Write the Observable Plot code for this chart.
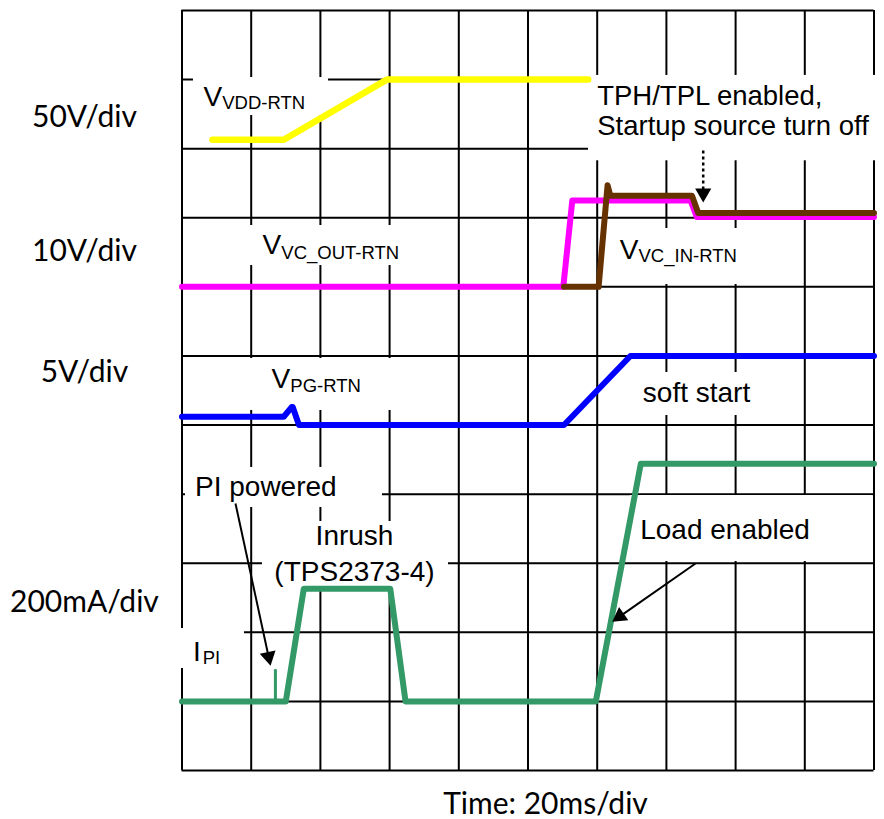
<!DOCTYPE html>
<html><head><meta charset="utf-8">
<script src="https://cdn.jsdelivr.net/npm/d3@7"></script>
<script src="https://cdn.jsdelivr.net/npm/@observablehq/plot@0.6"></script>
<style>body{margin:0;background:#fff} #chart svg{display:block}</style>
</head><body><div id="chart"></div>
<script>
// ---- trace data (time in divisions, level in divisions from bottom of screen) ----
const vddT = [0.44, 1.47, 2.96, 5.87];
const vddV = [9.13, 9.13, 10.0, 10.0];
const vcOutT = [0, 5.51, 5.64, 7.35, 7.44, 10];
const vcOutV = [7.0, 7.0, 8.25, 8.25, 8.01, 8.01];
const vcInT = [5.52, 6.02, 6.15, 6.19, 7.37, 7.46, 10];
const vcInV = [7.0, 7.0, 8.47, 8.32, 8.32, 8.07, 8.07];
const pgT = [0, 1.47, 1.585, 1.60, 1.69, 5.52, 6.48, 10];
const pgV = [5.12, 5.12, 5.26, 5.26, 5.0, 5.0, 6.0, 6.0];
const ipiT = [0, 1.50, 1.76, 3.01, 3.23, 5.98, 6.63, 10];
const ipiV = [1.0, 1.0, 2.63, 2.63, 1.0, 1.0, 4.44, 4.44];
const spikeT = [1.35, 1.35];
const spikeV = [1.0, 1.45];

// ---- grid ----
const gridX = d3.range(0, 11);
const gridY = d3.range(0, 12);

// ---- scale labels (left) ----
const scaleText = ["50V/div", "10V/div", "5V/div", "200mA/div"];
const scaleY = [9.32, 7.38, 5.62, 2.30];
const axisTitle = "Time: 20ms/div";

// ---- annotations ----
const noteText = ["V", "V", "V", "V", "soft start", "PI powered", "Load enabled", "I"];
const noteX = [0.311, 1.165, 6.327, 1.294, 6.659, 0.188, 6.621, 0.16];
const noteY = [9.625, 7.479, 7.406, 5.539, 5.331, 3.980, 3.354, 1.592];
const calloutText = ["TPH/TPL enabled,", "Startup source turn off"];
const calloutY = [9.635, 9.195];
const subText = ["VDD-RTN", "VC_OUT-RTN", "VC_IN-RTN", "PG-RTN", "PI"];
const subX = [0.582, 1.435, 6.597, 1.565, 0.30];
const subY = [9.578, 7.406, 7.357, 5.475, 1.544];
const inrushText = ["Inrush", "(TPS2373-4)"];
const inrushY = [3.257, 2.750];

// white label backgrounds [x1, x2, y1, y2]
const boxX1 = [0.166, 5.874, 0.845, 6.091, 0.918, 6.553, 0.051, 1.163, 6.481, -0.03];
const boxX2 = [2.117, 10.2, 3.158, 8.143, 3.085, 8.431, 2.897, 3.851, 9.986, 0.903];
const boxY1 = [9.48, 8.825, 7.309, 7.034, 5.211, 5.138, 3.807, 2.663, 3.025, 1.476];
const boxY2 = [10.03, 10.06, 7.888, 7.845, 5.963, 5.761, 4.386, 3.604, 3.980, 2.055];

// arrows
const arrowFromX = [0.773, 7.421, 7.532];
const arrowFromY = [3.864, 2.996, 8.974];
const arrowToX = [1.279, 6.221, 7.532];
const arrowToY = [1.520, 2.157, 8.226];

// ---- layout ----
const W = 884, H = 819, ML = 181.5, MR = 10.5, MT = 10, MB = 49;
const kx = (W - ML - MR) / 10, ky = (H - MT - MB) / 11;

const trace = (T, V) => T.map((t, i) => ({t, v: V[i]}));
const boxes = boxX1.map((_, i) => ({x1: boxX1[i], x2: boxX2[i], y1: boxY1[i], y2: boxY2[i]}));
const notes = noteText.map((s, i) => ({s, x: noteX[i], y: noteY[i]}));
const subs = subText.map((s, i) => ({s, x: subX[i], y: subY[i]}));
const scales = scaleText.map((s, i) => ({s, y: scaleY[i]}));
const arrows = arrowFromX.map((_, i) => {
  const dxp = (arrowToX[i] - arrowFromX[i]) * kx;
  const dyp = -(arrowToY[i] - arrowFromY[i]) * ky;
  const len = Math.hypot(dxp, dyp), ux = dxp / len, uy = dyp / len;
  const back = 9;
  return {x1: arrowFromX[i], y1: arrowFromY[i],
          cx: arrowToX[i] - ux * back / kx, cy: arrowToY[i] + uy * back / ky,
          angle: Math.atan2(ux, -uy) * 180 / Math.PI, dashed: i === 2};
});

const ARIAL = "Liberation Sans, Arial, sans-serif";
const CAL = "Lato, Carlito, sans-serif";
const lineOpts = {x: "t", y: "v", strokeWidth: 6, strokeLinecap: "round", strokeLinejoin: "round"};

const chart = Plot.plot({
  width: W, height: H,
  marginLeft: ML, marginRight: MR, marginTop: MT, marginBottom: MB,
  x: {domain: [0, 10], axis: null},
  y: {domain: [0, 11], axis: null},
  style: {background: "white", overflow: "visible"},
  marks: [
    Plot.ruleX(gridX, {stroke: "black", strokeWidth: 2}),
    Plot.ruleY(gridY, {stroke: "black", strokeWidth: 2}),
    Plot.rectX(boxes, {x1: "x1", x2: "x2", y1: "y1", y2: "y2", fill: "white"}),
    Plot.line(trace(vddT, vddV), {...lineOpts, stroke: "#ffff00", strokeWidth: 6.5}),
    Plot.line(trace(vcOutT, vcOutV), {...lineOpts, stroke: "#ff00ff"}),
    Plot.line(trace(vcInT, vcInV), {...lineOpts, stroke: "#663300"}),
    Plot.line(trace(pgT, pgV), {...lineOpts, stroke: "#0000ff"}),
    Plot.line(trace(ipiT, ipiV), {...lineOpts, stroke: "#339966"}),
    Plot.line(trace(spikeT, spikeV), {x: "t", y: "v", stroke: "#339966", strokeWidth: 3, strokeLinecap: "round"}),
    Plot.link(arrows.filter(d => !d.dashed), {x1: "x1", y1: "y1", x2: "cx", y2: "cy", stroke: "black", strokeWidth: 2}),
    Plot.link(arrows.filter(d => d.dashed), {x1: "x1", y1: "y1", x2: "cx", y2: "cy", stroke: "black", strokeWidth: 2.5, strokeDasharray: "3,3"}),
    Plot.dot(arrows, {x: "cx", y: "cy", symbol: "triangle", r: 6, fill: "black", stroke: "none", rotate: "angle"}),
    Plot.text(notes, {x: "x", y: "y", text: "s", fontSize: 28, fontFamily: ARIAL, textAnchor: "start", lineAnchor: "bottom", fill: "black"}),
    Plot.text(calloutText, {x: () => 6.0, y: (d, i) => calloutY[i], text: d => d, fontSize: 27.5, fontFamily: ARIAL, textAnchor: "start", lineAnchor: "bottom", fill: "black"}),
    Plot.text(subs, {x: "x", y: "y", text: "s", fontSize: 18.5, fontFamily: ARIAL, textAnchor: "start", lineAnchor: "bottom", fill: "black"}),
    Plot.text(inrushText, {x: () => 2.493, y: (d, i) => inrushY[i], text: d => d, fontSize: 28, fontFamily: ARIAL, textAnchor: "middle", lineAnchor: "bottom", fill: "black"}),
    Plot.text(scales, {x: () => -1.41, y: "y", text: "s", fontSize: 30, fontFamily: CAL, textAnchor: "middle", lineAnchor: "bottom", fill: "black"}),
    Plot.text([axisTitle], {x: () => 5.253, y: () => -0.627, text: d => d, fontSize: 30, fontFamily: CAL, textAnchor: "middle", lineAnchor: "bottom", fill: "black"})
  ]
});
document.getElementById("chart").appendChild(chart);
</script></body></html>
